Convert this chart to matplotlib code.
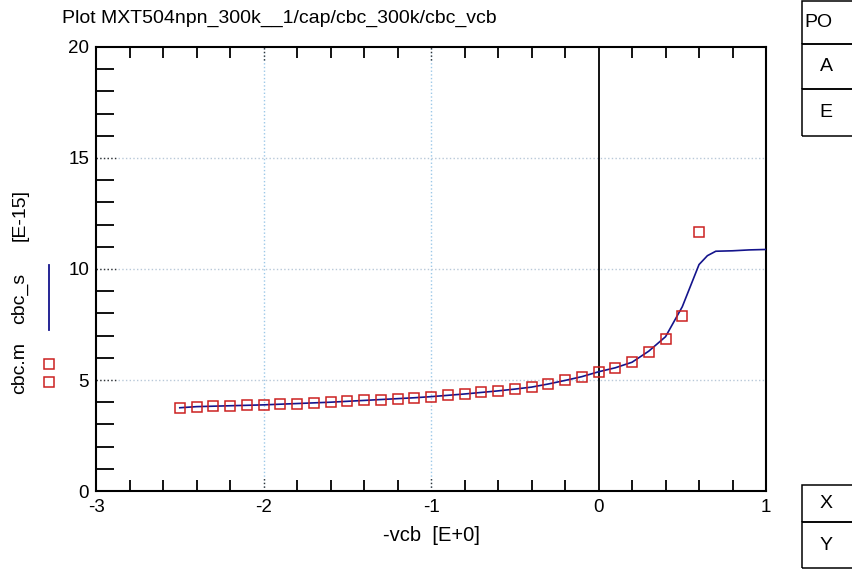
import numpy as np
import matplotlib
matplotlib.use("Agg")
from matplotlib import pyplot as plt
from matplotlib.patches import Rectangle

plt.rcParams['font.family'] = ['Liberation Sans', 'DejaVu Sans']
plt.rcParams['axes.unicode_minus'] = False

# measured data (cbc.m)
vcb_m = [-2.5, -2.4, -2.3, -2.2, -2.1, -2.0, -1.9, -1.8, -1.7, -1.6, -1.5, -1.4,
         -1.3, -1.2, -1.1, -1.0, -0.9, -0.8, -0.7, -0.6, -0.5, -0.4, -0.3, -0.2,
         -0.1, 0.0, 0.1, 0.2, 0.3, 0.4, 0.5, 0.6]
cbc_m = [3.75, 3.80, 3.82, 3.84, 3.86, 3.88, 3.91, 3.94, 3.97, 4.00, 4.04, 4.08,
         4.12, 4.16, 4.20, 4.25, 4.31, 4.37, 4.44, 4.51, 4.59, 4.68, 4.82, 4.98,
         5.15, 5.37, 5.55, 5.80, 6.27, 6.85, 7.90, 11.65]

# simulated data (cbc_s)
vcb_s = [-2.5, -2.4, -2.3, -2.2, -2.1, -2.0, -1.9, -1.8, -1.7, -1.6, -1.5, -1.4,
         -1.3, -1.2, -1.1, -1.0, -0.9, -0.8, -0.7, -0.6, -0.5, -0.4, -0.3, -0.2,
         -0.1, 0.0, 0.1, 0.2, 0.3, 0.4, 0.5, 0.6, 0.65, 0.7, 0.8, 0.9, 1.0]
cbc_s = [3.75, 3.80, 3.82, 3.84, 3.86, 3.88, 3.91, 3.94, 3.97, 4.00, 4.04, 4.08,
         4.12, 4.16, 4.20, 4.25, 4.31, 4.37, 4.44, 4.51, 4.59, 4.68, 4.82, 4.98,
         5.15, 5.37, 5.55, 5.80, 6.30, 6.95, 8.30, 10.20, 10.60, 10.80, 10.82, 10.86, 10.88]

title = "Plot MXT504npn_300k__1/cap/cbc_300k/cbc_vcb"

fig = plt.figure(figsize=(8.52, 5.71), dpi=100)
ax = fig.add_axes([0.1127, 0.1401, 0.7864, 0.7776])

grid_c = '#9cc8e8'
for gx in [-2, -1]:
    ax.axvline(gx, color=grid_c, ls=':', lw=1.0, zorder=1)
    ax.axvline(gx, ymin=0, ymax=0.03, color='#333333', ls=':', lw=1.0, zorder=1)
    ax.axvline(gx, ymin=0.97, ymax=1, color='#333333', ls=':', lw=1.0, zorder=1)
for gy in [5, 10, 15]:
    ax.axhline(gy, color='#b8c8d8', ls=':', lw=1.0, zorder=1)
    ax.axhline(gy, xmin=0, xmax=0.03, color='#333333', ls=':', lw=1.0, zorder=1)
ax.axvline(0, color='black', lw=1.3, zorder=2)

ax.plot(vcb_s, cbc_s, color='#14148c', lw=1.2, zorder=3)
ax.plot(vcb_m, cbc_m, ls='none', marker='s', ms=6.5, mfc='none', mec='#cc2020',
        mew=1.1, zorder=4)

ax.set_xlim(-3, 1)
ax.set_ylim(0, 20)
ax.set_xticks([-3, -2, -1, 0, 1])
ax.set_yticks([0, 5, 10, 15, 20])
ax.tick_params(axis='x', which='major', length=0, labelsize=13.5, pad=6)
ax.tick_params(axis='y', which='major', length=0, labelsize=13.5, pad=5)
ax.yaxis.set_minor_locator(matplotlib.ticker.FixedLocator(
    [v for v in range(1, 20) if v % 5 != 0]))
ax.xaxis.set_minor_locator(matplotlib.ticker.FixedLocator(
    [v for v in np.round(np.arange(-2.8, 1.0, 0.2), 1) if abs(v - round(v)) > 0.01]))
ax.tick_params(axis='x', which='minor', direction='in', length=8, width=1.3,
               top=True, bottom=True)
ax.tick_params(axis='y', which='minor', direction='in', length=13, width=1.3,
               left=True, right=False)
for s in ax.spines.values():
    s.set_linewidth(1.5)

ax.set_xlabel("-vcb  [E+0]", fontsize=14.5, labelpad=7)

fig.text(62 / 852, 1 - 18 / 571, title, fontsize=14, ha='left', va='center')

# y label with legend symbols
fig.text(20 / 852, 1 - 368 / 571, "cbc.m", rotation=90, fontsize=14,
         ha='center', va='center')
fig.text(20 / 852, 1 - 298 / 571, "cbc_s", rotation=90, fontsize=14,
         ha='center', va='center')
fig.text(20 / 852, 1 - 215 / 571, "[E-15]", rotation=90, fontsize=14,
         ha='center', va='center')
fig.lines.append(plt.Line2D([49 / 852, 49 / 852], [1 - 265 / 571, 1 - 330 / 571],
                            transform=fig.transFigure, color='#14148c', lw=1.3))
fig.lines.append(plt.Line2D([49 / 852, 49 / 852], [1 - 364 / 571, 1 - 382 / 571],
                            transform=fig.transFigure, ls='none', marker='s', ms=7,
                            mfc='none', mec='#cc2020', mew=1.1))

# side boxes
def box(y0, y1, label, ha='center'):
    r = Rectangle((802 / 852, 1 - y1 / 571), 0.2, (y1 - y0) / 571,
                  transform=fig.transFigure, fill=False, ec='black', lw=1.1)
    fig.patches.append(r)
    if ha == 'center':
        fig.text(826 / 852, 1 - (y0 + y1) / 2 / 571, label, fontsize=14,
                 ha='center', va='center')
    else:
        fig.text(804 / 852, 1 - (y0 + y1) / 2 / 571, label, fontsize=14,
                 ha='left', va='center')

box(1, 44, "PO", ha='left')
box(44, 89, "A")
box(89, 136, "E")
box(485, 522, "X")
box(522, 568, "Y")

fig.savefig("out.png", dpi=100)
